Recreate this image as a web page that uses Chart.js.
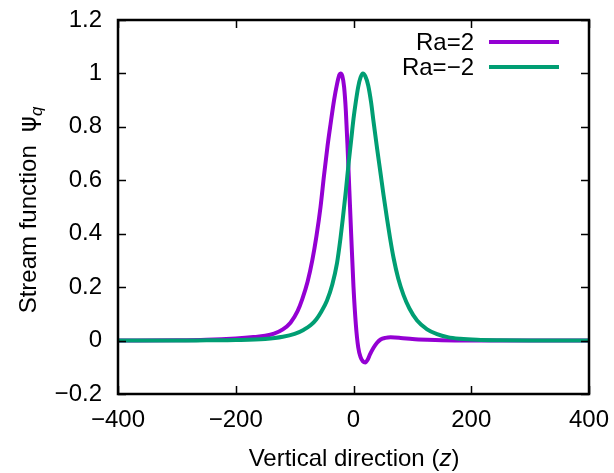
<!DOCTYPE html>
<html>
<head>
<meta charset="utf-8">
<script src="https://cdn.jsdelivr.net/npm/chart.js@4/dist/chart.umd.min.js"></script>
<style>
  html, body { margin: 0; padding: 0; background: #ffffff; }
  #wrap { width: 614px; height: 473px; }
</style>
</head>
<body>
<div id="wrap"><canvas id="c" width="614" height="473"></canvas></div>
<script>
// ---- data ----
const seriesLabels = ['Ra=2', 'Ra=\u22122'];
const seriesColors = ['#9400D3', '#009E73'];

const zRa2 = [-400, -300, -250, -200, -170, -150, -135, -120, -107, -95, -87, -78, -70, -63, -56, -50, -44, -39, -33, -28, -24, -22, -19, -16, -13, -10, -7, -4, 0, 4, 8, 12, 16, 20, 24, 28, 34, 40, 46, 54, 63, 80, 100, 125, 150, 200, 300, 400];
const psiRa2 = [0, 0.001, 0.003, 0.008, 0.013, 0.018, 0.026, 0.042, 0.067, 0.11, 0.155, 0.22, 0.30, 0.39, 0.50, 0.62, 0.73, 0.81, 0.90, 0.96, 0.995, 1.0, 0.99, 0.95, 0.86, 0.72, 0.56, 0.40, 0.20, 0.06, -0.025, -0.062, -0.078, -0.082, -0.072, -0.052, -0.027, -0.008, 0.004, 0.010, 0.012, 0.010, 0.006, 0.003, 0.001, 0, 0, 0];

const zRaM2 = [-400, -300, -250, -200, -150, -120, -100, -85, -73, -63, -55, -45, -36, -28, -22, -18, -13, -8, -4, 0, 4, 8, 12, 16, 20, 25, 30, 34, 40, 46, 51, 57, 62, 68, 76, 85, 95, 108, 125, 142, 160, 181, 210, 250, 300, 400];
const psiRaM2 = [0, 0, 0.001, 0.002, 0.006, 0.014, 0.025, 0.04, 0.057, 0.08, 0.107, 0.15, 0.21, 0.29, 0.385, 0.46, 0.56, 0.67, 0.75, 0.83, 0.895, 0.95, 0.985, 1.0, 0.99, 0.955, 0.89, 0.82, 0.72, 0.625, 0.545, 0.455, 0.385, 0.31, 0.232, 0.17, 0.12, 0.075, 0.042, 0.024, 0.013, 0.007, 0.003, 0.001, 0, 0];

const xTicks = [-400, -200, 0, 200, 400];
const yTicks = [-0.2, 0, 0.2, 0.4, 0.6, 0.8, 1, 1.2];
const xTitleParts = [['Vertical direction (', false], ['z', true], [')', false]];
const yTitleMain = 'Stream function  ';
const yTitleSymbol = '\u03C8';
const yTitleSub = 'q';

// ---- helpers ----
const FONT = '"Liberation Sans", Arial, Helvetica, sans-serif';
const fmt = v => {
  const r = Math.round(v * 10) / 10;
  return String(r).replace('-', '\u2212');
};
const toPts = (xs, ys) => xs.map((x, i) => ({ x: x, y: ys[i] }));
const noPad = s => { s.paddingTop = 0; s.paddingBottom = 0; s.paddingLeft = 0; s.paddingRight = 0; };

const decor = {
  id: 'decor',
  afterDatasetsDraw(chart) {
    const ctx = chart.ctx;
    const a = chart.chartArea;
    const xs = chart.scales.x, ys = chart.scales.y;
    ctx.save();
    ctx.strokeStyle = '#000';
    ctx.lineCap = 'butt';
    // inward ticks on all four sides
    ctx.lineWidth = 1.5;
    const tl = 8;
    ctx.beginPath();
    xTicks.forEach(v => {
      const p = Math.round(xs.getPixelForValue(v)) + 0.5;
      ctx.moveTo(p, a.bottom); ctx.lineTo(p, a.bottom - tl);
      ctx.moveTo(p, a.top); ctx.lineTo(p, a.top + tl);
    });
    yTicks.forEach(v => {
      const p = Math.round(ys.getPixelForValue(v)) + 0.5;
      ctx.moveTo(a.left, p); ctx.lineTo(a.left + tl, p);
      ctx.moveTo(a.right, p); ctx.lineTo(a.right - tl, p);
    });
    ctx.stroke();
    // frame
    ctx.lineWidth = 2.5;
    ctx.strokeRect(a.left, a.top, a.right - a.left, a.bottom - a.top);

    // legend
    ctx.fillStyle = '#000';
    ctx.font = '24px ' + FONT;
    ctx.textAlign = 'right';
    ctx.textBaseline = 'middle';
    chart.data.datasets.forEach((ds, i) => {
      const y = 42 + i * 25;
      ctx.fillText(ds.label, 474, y + 1);
      ctx.strokeStyle = ds.borderColor;
      ctx.lineWidth = 4;
      ctx.beginPath();
      ctx.moveTo(489, y); ctx.lineTo(559, y);
      ctx.stroke();
    });

    // x title
    ctx.textAlign = 'left';
    ctx.textBaseline = 'alphabetic';
    let total = 0;
    xTitleParts.forEach(([t, it]) => {
      ctx.font = (it ? 'italic ' : '') + '24px ' + FONT;
      total += ctx.measureText(t).width;
    });
    let x0 = 354 - total / 2;
    xTitleParts.forEach(([t, it]) => {
      ctx.font = (it ? 'italic ' : '') + '24px ' + FONT;
      ctx.fillText(t, x0, 466);
      x0 += ctx.measureText(t).width;
    });

    // y title (rotated)
    ctx.save();
    ctx.translate(36, 210);
    ctx.rotate(-Math.PI / 2);
    ctx.font = '24px ' + FONT;
    const w1 = ctx.measureText(yTitleMain).width;
    ctx.font = '24px "DejaVu Sans", ' + FONT;
    const w2 = ctx.measureText(yTitleSymbol).width;
    ctx.font = 'italic 17px ' + FONT;
    const w3 = ctx.measureText(yTitleSub).width;
    let s = -(w1 + w2 + w3) / 2;
    ctx.font = '24px ' + FONT;
    ctx.fillText(yTitleMain, s, 0);
    s += w1;
    ctx.font = '24px "DejaVu Sans", ' + FONT;
    ctx.fillText(yTitleSymbol, s, 0);
    s += w2;
    ctx.font = 'italic 17px ' + FONT;
    ctx.fillText(yTitleSub, s, 6);
    ctx.restore();

    ctx.restore();
  }
};

new Chart(document.getElementById('c'), {
  type: 'line',
  data: {
    datasets: [
      { label: seriesLabels[0], data: toPts(zRa2, psiRa2), borderColor: seriesColors[0], order: 2 },
      { label: seriesLabels[1], data: toPts(zRaM2, psiRaM2), borderColor: seriesColors[1], order: 1 }
    ]
  },
  options: {
    responsive: false,
    animation: false,
    devicePixelRatio: 1,
    layout: { padding: { top: 20, right: 25, left: 0, bottom: 0 } },
    elements: {
      point: { radius: 0 },
      line: { borderWidth: 4, cubicInterpolationMode: 'monotone', fill: false, borderCapStyle: 'round', borderJoinStyle: 'round' }
    },
    plugins: { legend: { display: false }, tooltip: { enabled: false }, title: { display: false } },
    scales: {
      x: {
        type: 'linear', min: -400, max: 400,
        afterBuildTicks: s => { s.ticks = xTicks.map(v => ({ value: v })); },
        afterFit: s => { s.height = 79; noPad(s); },
        grid: { display: false, drawTicks: false },
        border: { display: false },
        ticks: { callback: v => fmt(v), color: '#000', font: { size: 24, family: FONT }, padding: 12, maxRotation: 0 }
      },
      y: {
        type: 'linear', min: -0.2, max: 1.2,
        afterBuildTicks: s => { s.ticks = yTicks.map(v => ({ value: v })); },
        afterFit: s => { s.width = 118; noPad(s); },
        grid: { display: false, drawTicks: false },
        border: { display: false },
        ticks: { callback: v => fmt(v), color: '#000', font: { size: 24, family: FONT }, padding: 16 }
      }
    }
  },
  plugins: [decor]
});
</script>
</body>
</html>
